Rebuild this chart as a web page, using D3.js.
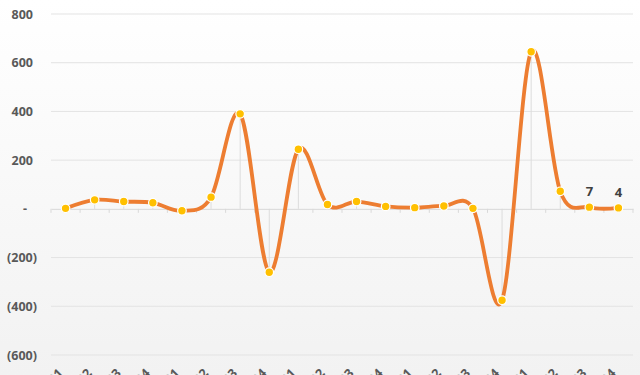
<!DOCTYPE html>
<html>
<head>
<meta charset="utf-8">
<script src="https://cdn.jsdelivr.net/npm/d3@7"></script>
<style>
  body { margin: 0; background: #fff; }
  svg { display: block; font-family: "Open Sans", sans-serif; }
</style>
</head>
<body>
<div class="chart"></div>
<script>
// quarters and values
var quarters = ["2019 Q1","2019 Q2","2019 Q3","2019 Q4",
                "2020 Q1","2020 Q2","2020 Q3","2020 Q4",
                "2021 Q1","2021 Q2","2021 Q3","2021 Q4",
                "2022 Q1","2022 Q2","2022 Q3","2022 Q4",
                "2023 Q1","2023 Q2","2023 Q3","2023 Q4"];
var values = [2, 37, 30, 25, -8, 48, 390, -260, 245, 18, 30, 10, 5, 12, 2, -375, 645, 72, 7, 4];
var yTicks = [-600, -400, -200, 0, 200, 400, 600, 800];
var labelled = [18, 19]; // only the last two points carry a value label

var width = 640, height = 375;
var margin = {top: 14, right: 7, bottom: 20, left: 51};

var svg = d3.select(".chart").append("svg")
    .attr("width", width)
    .attr("height", height);

var grad = svg.append("defs").append("linearGradient")
    .attr("id", "bg")
    .attr("x1", 0).attr("y1", 0).attr("x2", 0).attr("y2", 1);
grad.append("stop").attr("offset", "0%").attr("stop-color", "#ffffff");
grad.append("stop").attr("offset", "100%").attr("stop-color", "#f2f2f2");

svg.append("rect")
    .attr("width", width)
    .attr("height", height)
    .attr("fill", "url(#bg)");

var x = d3.scaleBand()
    .domain(quarters)
    .range([margin.left, width - margin.right]);

var y = d3.scaleLinear()
    .domain([-600, 800])
    .range([355, margin.top]);

function cx(d, i) { return x(quarters[i]) + x.bandwidth() / 2; }

// gridlines
svg.append("g")
    .selectAll("line")
    .data(yTicks.filter(function(t){ return t !== 0; }))
  .enter().append("line")
    .attr("x1", margin.left)
    .attr("x2", width - margin.right)
    .attr("y1", function(d){ return y(d); })
    .attr("y2", function(d){ return y(d); })
    .attr("stroke", "#e3e3e3")
    .attr("stroke-width", 1);

// y labels, accounting style
svg.append("g")
    .selectAll("text")
    .data(yTicks)
  .enter().append("text")
    .attr("x", function(d){ return d < 0 ? 37 : (d === 0 ? 27 : 33); })
    .attr("y", function(d){ return y(d) + 4.5; })
    .attr("text-anchor", "end")
    .attr("font-size", "12.5px")
    .attr("font-weight", "bold")
    .attr("fill", "#595959")
    .text(function(d){
      if (d === 0) return "-";
      return d < 0 ? "(" + Math.abs(d) + ")" : d;
    });

// drop lines
svg.append("g")
    .selectAll("line")
    .data(values)
  .enter().append("line")
    .attr("x1", cx)
    .attr("x2", cx)
    .attr("y1", function(d){ return y(d); })
    .attr("y2", y(0))
    .attr("stroke", "#dcdcdc")
    .attr("stroke-width", 1);

// zero axis with ticks
var xAxis = d3.axisBottom(x)
    .tickSize(0)
    .tickFormat("");
var axisG = svg.append("g")
    .attr("transform", "translate(0," + y(0) + ")")
    .call(xAxis);
axisG.select(".domain").attr("stroke", "#d9d9d9");
axisG.selectAll(".bnd")
    .data(d3.range(quarters.length + 1))
  .enter().append("line")
    .attr("class", "bnd")
    .attr("x1", function(i){ return margin.left + i * x.step(); })
    .attr("x2", function(i){ return margin.left + i * x.step(); })
    .attr("y1", 0)
    .attr("y2", 4)
    .attr("stroke", "#d9d9d9");

// category labels at the bottom (mostly cut off by the frame, as in the original)
svg.append("g")
    .selectAll("text")
    .data(quarters)
  .enter().append("text")
    .attr("transform", function(d){
      return "translate(" + (x(d) + x.bandwidth() / 2 - 2) + ",374) rotate(-45)";
    })
    .attr("text-anchor", "end")
    .attr("font-size", "12.5px")
    .attr("font-weight", "bold")
    .attr("fill", "#595959")
    .text(function(d){ return d; });

// smooth line
var line = d3.line()
    .x(cx)
    .y(function(d){ return y(d); })
    .curve(d3.curveCardinal.tension(0));

svg.append("path")
    .datum(values)
    .attr("d", line)
    .attr("fill", "none")
    .attr("stroke", "#ed7d31")
    .attr("stroke-width", 3.8)
    .attr("stroke-linecap", "round");

svg.append("g")
    .selectAll("circle")
    .data(values)
  .enter().append("circle")
    .attr("cx", cx)
    .attr("cy", function(d){ return y(d); })
    .attr("r", 4.3)
    .attr("fill", "#ffc000")
    .attr("stroke", "#ffffff")
    .attr("stroke-width", 1.2);

svg.append("g")
    .selectAll("text")
    .data(labelled)
  .enter().append("text")
    .attr("x", function(i){ return cx(null, i); })
    .attr("y", function(i){ return y(values[i]) - 11; })
    .attr("text-anchor", "middle")
    .attr("font-size", "13px")
    .attr("font-weight", "bold")
    .attr("fill", "#404040")
    .text(function(i){ return values[i]; });
</script>
</body>
</html>
